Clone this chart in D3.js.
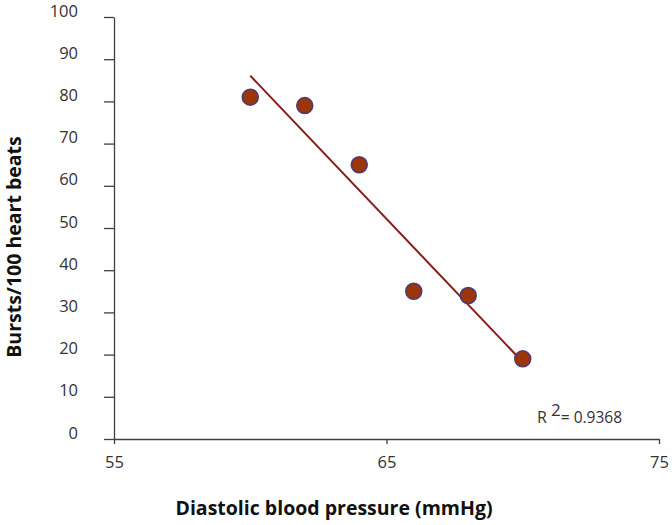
<!DOCTYPE html>
<html><head><meta charset="utf-8">
<script src="https://cdn.jsdelivr.net/npm/d3@7"></script>
<style>body{margin:0;background:#fff}svg{display:block}</style>
</head><body>
<svg id="c" width="672" height="525"></svg>
<script>
const pressure = [60, 62, 64, 66, 68, 70];
const bursts = [81, 79, 65, 35, 34, 19];
const xTicks = [55, 65, 75];
const yTicks = [0, 10, 20, 30, 40, 50, 60, 70, 80, 90, 100];
const rSquaredLabel = "0.9368";

(function () {
const svg = d3.select("#c");
const mLeft = 114, mRight = 659, mTop = 17, mBottom = 439;
const x = d3.scaleLinear().domain([55, 75]).range([mLeft, mRight]);
const y = d3.scaleLinear().domain([0, 100]).range([mBottom, mTop]);
const font = "'Open Sans', sans-serif";
const axisColor = "#404040";

// y axis
const ya = svg.append("g").attr("transform", `translate(${mLeft},0)`)
  .call(d3.axisLeft(y).tickValues(yTicks).tickSize(10).tickPadding(26).tickSizeOuter(0));
ya.select(".domain").attr("stroke", axisColor).attr("stroke-width", 1.3);
ya.selectAll(".tick line").attr("stroke", axisColor).attr("stroke-width", 1.3);
ya.selectAll(".tick text").attr("font-family", font).attr("font-size", 16.5)
  .attr("fill", "#333").attr("dy", "-0.05em");

// x axis
const xa = svg.append("g").attr("transform", `translate(0,${mBottom})`)
  .call(d3.axisBottom(x).tickValues(xTicks).tickSize(5).tickPadding(12).tickSizeOuter(0));
xa.select(".domain").attr("stroke", axisColor).attr("stroke-width", 1.3);
xa.selectAll(".tick line").attr("stroke", axisColor).attr("stroke-width", 1.3);
xa.selectAll(".tick text").attr("font-family", font).attr("font-size", 16.5).attr("fill", "#333");

// trendline (least squares)
const n = pressure.length;
const mx = d3.mean(pressure), my = d3.mean(bursts);
let sxy = 0, sxx = 0;
for (let i = 0; i < n; i++) { sxy += (pressure[i]-mx)*(bursts[i]-my); sxx += (pressure[i]-mx)**2; }
const slope = sxy / sxx, intercept = my - slope * mx;
const x0 = d3.min(pressure), x1 = d3.max(pressure);
svg.append("line")
  .attr("x1", x(x0)).attr("y1", y(intercept + slope * x0))
  .attr("x2", x(x1)).attr("y2", y(intercept + slope * x1))
  .attr("stroke", "#8b1a1a").attr("stroke-width", 2);

// points
svg.append("g").selectAll("circle").data(pressure.map((p, i) => [p, bursts[i]]))
  .join("circle")
  .attr("cx", d => x(d[0])).attr("cy", d => y(d[1])).attr("r", 8)
  .attr("fill", "#9c3606").attr("stroke", "#4a3a7a").attr("stroke-width", 1.5);

// R^2 label
const rt = svg.append("text").attr("x", 537).attr("y", 423)
  .attr("font-family", font).attr("font-size", 16).attr("fill", "#333");
rt.append("tspan").text("R ");
rt.append("tspan").attr("dy", -7).attr("font-size", 17).text("2");
rt.append("tspan").attr("dy", 7).attr("font-size", 15.5).text("= " + rSquaredLabel);

// axis titles
svg.append("text").attr("x", 334).attr("y", 515).attr("text-anchor", "middle")
  .attr("font-family", font).attr("font-size", 19.5).attr("font-weight", "bold").attr("fill", "#111")
  .text("Diastolic blood pressure (mmHg)");
svg.append("text").attr("transform", "translate(21,247) rotate(-90)").attr("text-anchor", "middle")
  .attr("font-family", font).attr("font-size", 19.5).attr("font-weight", "bold").attr("fill", "#111")
  .text("Bursts/100 heart beats");
})();
</script>
</body></html>
